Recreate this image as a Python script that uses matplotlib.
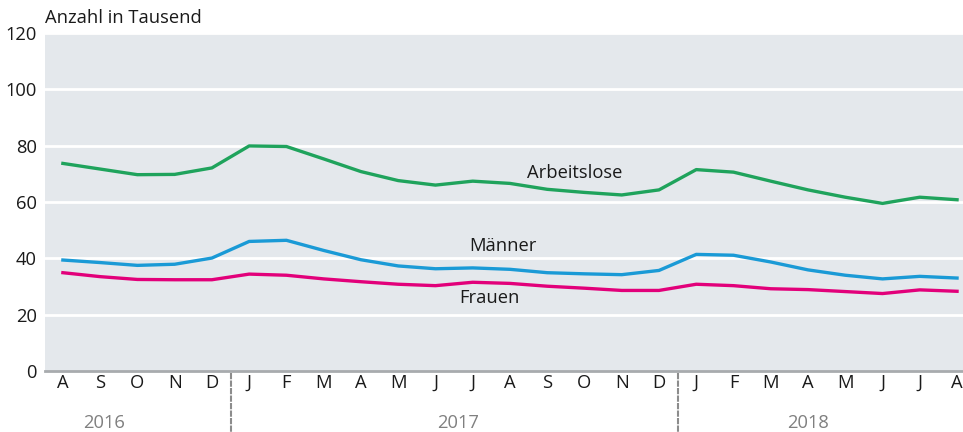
import matplotlib.pyplot as plt
from matplotlib.transforms import blended_transform_factory

# data (Anzahl in Tausend), Aug 2016 - Aug 2018
months = ["A", "S", "O", "N", "D",
          "J", "F", "M", "A", "M", "J", "J", "A", "S", "O", "N", "D",
          "J", "F", "M", "A", "M", "J", "J", "A"]
arbeitslose = [73.7, 71.7, 69.7, 69.8, 72.1, 79.9, 79.7, 75.3, 70.8, 67.6, 66.0, 67.4, 66.6,
               64.5, 63.4, 62.5, 64.3, 71.5, 70.6, 67.4, 64.3, 61.7, 59.5, 61.7, 60.8]
maenner = [39.4, 38.5, 37.5, 37.9, 40.1, 46.0, 46.4, 42.8, 39.5, 37.3, 36.3, 36.6, 36.1,
           34.9, 34.5, 34.2, 35.7, 41.4, 41.1, 38.7, 35.9, 34.0, 32.7, 33.6, 33.0]
frauen = [34.9, 33.5, 32.5, 32.4, 32.4, 34.4, 34.0, 32.7, 31.7, 30.8, 30.3, 31.5, 31.1,
          30.1, 29.4, 28.6, 28.6, 30.8, 30.3, 29.2, 28.9, 28.2, 27.5, 28.8, 28.3]
years = ["2016", "2017", "2018"]
year_pos = [1.1, 10.6, 20.0]
year_breaks = [4.5, 16.5]
yticks = [0, 20, 40, 60, 80, 100, 120]

plt.rcParams['font.family'] = ['Open Sans', 'DejaVu Sans']
FS = 13.2

fig = plt.figure(figsize=(9.63, 4.32), dpi=100)
ax = fig.add_axes([45 / 963, 1 - 371 / 432, 918 / 963, 338 / 432])
ax.set_facecolor('#e4e8ec')

x = list(range(len(months)))
ax.plot(x, arbeitslose, color='#1fa35c', lw=2.4, zorder=3)
ax.plot(x, maenner, color='#1a9ad6', lw=2.4, zorder=3)
ax.plot(x, frauen, color='#e2007a', lw=2.4, zorder=3)

ax.text(13.75, 70.3, "Arbeitslose", fontsize=FS, ha='center', va='center', color='#1a1a1a')
ax.text(11.8, 44.4, "Männer", fontsize=FS, ha='center', va='center', color='#1a1a1a')
ax.text(11.45, 25.9, "Frauen", fontsize=FS, ha='center', va='center', color='#1a1a1a')

ax.set_xlim(-0.48, 24.16)
ax.set_ylim(0, 120)
ax.set_yticks(yticks)
for y in yticks[1:]:
    ax.axhline(y, color='white', lw=2, zorder=1)
ax.axhline(0, color='#a8abae', lw=2, zorder=2, clip_on=False)

ax.set_xticks(x)
ax.set_xticklabels(months)
ax.tick_params(axis='both', length=0, labelsize=FS, colors='#1a1a1a')
ax.tick_params(axis='x', pad=2)
ax.tick_params(axis='y', pad=6)
for s in ax.spines.values():
    s.set_visible(False)

trans = blended_transform_factory(ax.transData, ax.transAxes)
for b in year_breaks:
    ax.plot([b, b], [-0.005, -0.18], transform=trans, color='#8c8c8c', lw=1.5,
            ls=(0, (3, 0.6)), clip_on=False)
for yr, p in zip(years, year_pos):
    ax.text(p, -0.155, yr, transform=trans, ha='center', va='center',
            fontsize=FS, color='#808080')

fig.text(45 / 963, 1 - 18 / 432, "Anzahl in Tausend", fontsize=FS, va='center', ha='left', color='#1a1a1a')

fig.savefig("out.png", dpi=100)
